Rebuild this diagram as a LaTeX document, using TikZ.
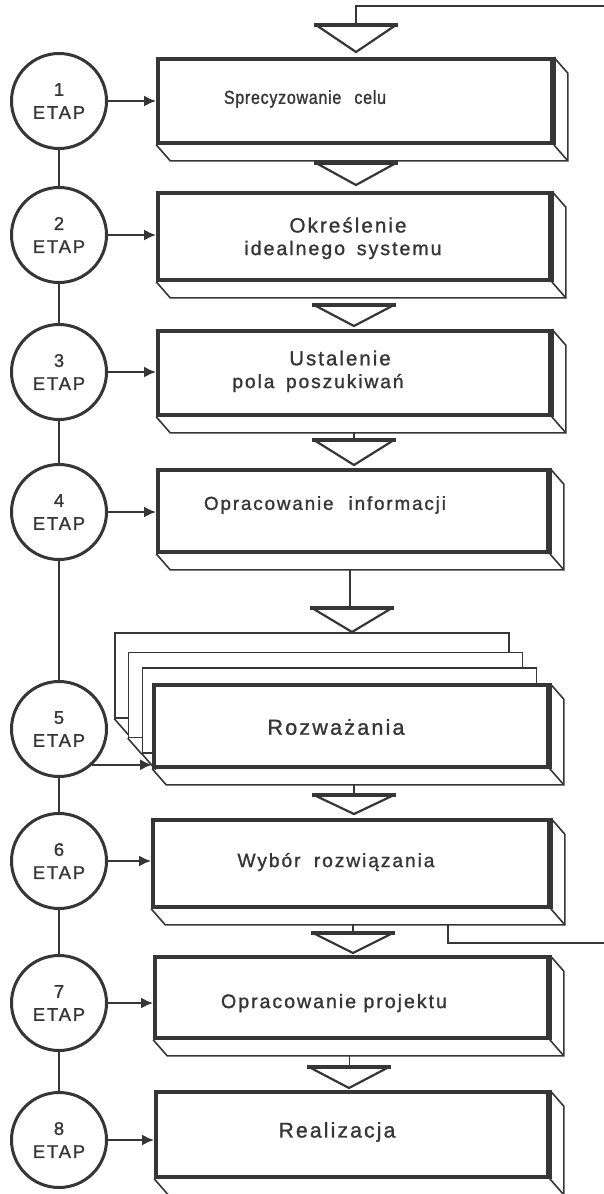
\documentclass[tikz,border=0pt]{standalone}
\usepackage{fontspec}
\setmainfont{Liberation Sans}
\newfontfamily\lett{Liberation Sans}[LetterSpace=10,FakeBold=1.2]
\newfontfamily\lettn{Liberation Sans}[LetterSpace=4,FakeBold=1.2,FakeStretch=0.85]
\usetikzlibrary{arrows.meta,calc}
\definecolor{ink}{HTML}{363636}
\newcommand\fs[1]{\fontsize{#1}{#1}\selectfont}
\newcommand\slab[1]{%
  \draw[shadowline] (#1.north east) -- ++(14,16) |- ($(#1.south west)+(14,16)$) -- (#1.south west);
  \draw[shadowline] (#1.south east) -- ++(14,16);
  \draw[rightedge] (#1.north east) -- (#1.south east);}
\newcommand\tri[4]{%
  \coordinate (#1) at (#2,#3);
  \draw[trisides] ($(#1)+(-40,0)$) -- ($(#1)+(0,#4)$) -- ($(#1)+(40,0)$);
  \draw[tribar] ($(#1)+(-42,0)$) -- ($(#1)+(42,0)$);}
\begin{document}
\begin{tikzpicture}[x=0.5pt,y=-0.5pt,
  etap/.style={circle,draw=ink,line width=1.5pt,minimum size=47.5pt,inner sep=0pt,align=center,
    font=\lett\fontsize{9.2}{11.5}\selectfont,text=ink},
  stepbox/.style={rectangle,draw=ink,fill=white,line width=1.8pt,inner sep=0pt},
  backbox/.style={rectangle,draw=ink,fill=white,line width=0.7pt,inner sep=0pt,
    minimum width=197pt,minimum height=42.5pt},
  lbl/.style={text=ink,inner sep=0pt},
  shadowline/.style={draw=ink,line width=0.8pt},
  rightedge/.style={draw=ink,line width=2.6pt},
  link/.style={draw=ink,line width=1.2pt},
  arr/.style={draw=ink,line width=1.2pt,-{Latex[length=6pt,width=5.5pt]}},
  trisides/.style={draw=ink,line width=1.1pt,line join=miter},
  tribar/.style={draw=ink,line width=2pt},
  fb/.style={draw=ink,line width=1.1pt},
]
\useasboundingbox (0,0) rectangle (604,1194);
\fill[white] (0,0) rectangle (604,1194);

% ---------- circles ----------
\node[etap] (c1) at (59,101) {1\\ETAP};
\node[etap] (c2) at (59,235) {2\\ETAP};
\node[etap] (c3) at (59,372) {3\\ETAP};
\node[etap] (c4) at (59,512) {4\\ETAP};
\node[etap] (c5) at (59,729) {5\\ETAP};
\node[etap] (c6) at (59,861) {6\\ETAP};
\node[etap] (c7) at (59,1003) {7\\ETAP};
\node[etap] (c8) at (59,1140) {8\\ETAP};
\foreach \a/\b in {c1/c2,c2/c3,c3/c4,c4/c5,c5/c6,c6/c7,c7/c8}
  \draw[link] (\a) -- (\b);

% ---------- boxes ----------
\node[stepbox,minimum width=197pt,minimum height=42pt] (b1) at (355,101) {};
\slab{b1}
\node[stepbox,minimum width=196pt,minimum height=43.5pt] (b2) at (354,236.5) {};
\slab{b2}
\node[stepbox,minimum width=196pt,minimum height=42pt] (b3) at (354,373) {};
\slab{b3}
\node[stepbox,minimum width=195pt,minimum height=41pt] (b4) at (353,511) {};
\slab{b4}
% stacked boxes of stage 5
\node[backbox] (b5a) at (312,675.5) {};
\draw[shadowline] (b5a.south west) -- ++(14,16);
\node[backbox] (b5b) at (325.5,695) {};
\draw[shadowline] (b5b.south west) -- ++(14,16);
\node[backbox] (b5c) at (339.5,710.5) {};
\draw[shadowline] (b5c.south west) -- ++(14,16);
\node[stepbox,minimum width=197pt,minimum height=41pt] (b5) at (351,726) {};
\slab{b5}
\node[stepbox,minimum width=198pt,minimum height=43.5pt] (b6) at (351,863.5) {};
\slab{b6}
\node[stepbox,minimum width=196.5pt,minimum height=40.5pt] (b7) at (351.5,997.5) {};
\slab{b7}
\node[stepbox,minimum width=196pt,minimum height=42.5pt] (b8) at (352,1134.5) {};
\slab{b8}

% ---------- labels ----------
\node[lbl,font=\lettn\fs{9.4}] (l1) at ($(b1.center)+(-50,-2)$) {Sprecyzowanie\hspace{0.7em}celu};
\node[lbl,font=\lett\fs{10.3}] (l2a) at ($(b2.center)+(-6,-11.5)$) {Określenie};
\node[lbl,font=\lett\fs{9.8}] (l2b) at ($(b2.center)+(-11,13.5)$) {idealnego\hspace{0.6em}systemu};
\node[lbl,font=\lett\fs{10.2}] (l3a) at ($(b3.center)+(-14,-15)$) {Ustalenie};
\node[lbl,font=\lett\fs{9.6}] (l3b) at ($(b3.center)+(-36,10)$) {pola\hspace{0.6em}poszukiwań};
\node[lbl,font=\lett\fs{9.4}] (l4) at ($(b4.center)+(-28,-6)$) {Opracowanie\hspace{0.8em}informacji};
\node[lbl,font=\lett\fs{10.8}] (l5) at ($(b5.center)+(-15,1)$) {Rozważania};
\node[lbl,font=\lett\fs{9.6}] (l6) at ($(b6.center)+(-15,-1.5)$) {Wybór\hspace{0.7em}rozwiązania};
\node[lbl,font=\lett\fs{9.8}] (l7) at ($(b7.center)+(-17.5,5.5)$) {Opracowanie projektu};
\node[lbl,font=\lett\fs{10.6}] (l8) at ($(b8.center)+(-15,-2.5)$) {Realizacja};

% ---------- arrows from stages ----------
\draw[arr] (c1.east) -- (c1.east -| b1.west);
\draw[arr] (c2.east) -- (c2.east -| b2.west);
\draw[arr] (c3.east) -- (c3.east -| b3.west);
\draw[arr] (c4.east) -- (c4.east -| b4.west);
\draw[arr] (c5.-47) -- (c5.-47 -| b5.west);
\draw[arr] (c6.east) -- (c6.east -| b6.west);
\draw[arr] (c7.east) -- (c7.east -| b7.west);
\draw[arr] (c8.east) -- (c8.east -| b8.west);

% ---------- flow triangles ----------
\tri{t1}{356}{25}{27}
\tri{t2}{356}{163}{22}
\tri{t3}{354}{305}{21}
\tri{t4}{354}{440}{25}
\tri{t5}{352}{608}{24}
\tri{t6}{354}{795}{19}
\tri{t7}{353}{933}{20}
\tri{t8}{349}{1067}{21}

% ---------- connectors between boxes and triangles ----------
\coordinate (s1) at ($(b1.south)+(1,16)$);
\coordinate (s3) at ($(b3.south)+(0,16)$);
\coordinate (s4) at ($(b4.south)+(-3,16)$);
\coordinate (s5) at ($(b5.south)+(3,16)$);
\coordinate (s6) at ($(b6.south)+(2,16)$);
\coordinate (s7) at ($(b7.south)+(-2,16)$);
\draw[link,line width=0.8pt] (s1) -- (s1 |- t2);
\draw[link,line width=0.8pt] (s3) -- (s3 |- t4);
\draw[link] (s4) -- (s4 |- t5);
\draw[link,line width=0.8pt] (s5) -- (s5 |- t6);
\draw[link,line width=0.8pt] (s6) -- (s6 |- t7);
\draw[link,line width=0.8pt] (s7) -- (s7 |- t8);

% ---------- feedback loop ----------
\coordinate (fr1) at (604,6);
\coordinate (fbs) at ($(b6.south)+(97,16)$);
\coordinate (fr2) at (604,943);
\draw[fb] (fr1) -| (t1);
\draw[fb] (fbs) |- (fr2);
\end{tikzpicture}
\end{document}
